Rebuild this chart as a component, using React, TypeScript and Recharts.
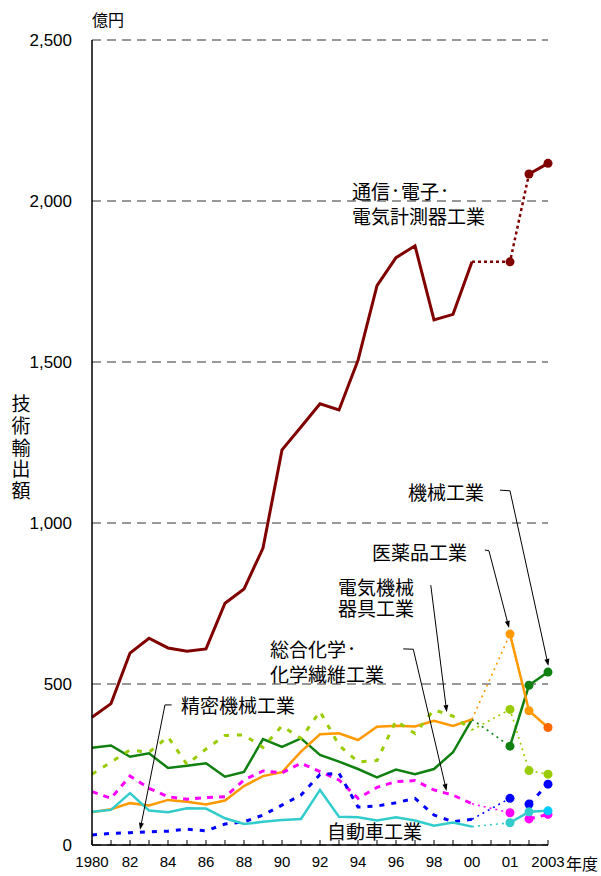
import React from 'react';
import { LineChart, Line, XAxis, YAxis, CartesianGrid, ReferenceLine } from 'recharts';

// fiscal years; the axis leaves one empty slot between 2000 and 2001
const years = [
  '1980', '1981', '1982', '1983', '1984', '1985', '1986', '1987', '1988', '1989', '1990',
  '1991', '1992', '1993', '1994', '1995', '1996', '1997', '1998', '1999', '2000',
  '2001', '2002', '2003',
];
const xSlots = [0, 1, 2, 3, 4, 5, 6, 7, 8, 9, 10, 11, 12, 13, 14, 15, 16, 17, 18, 19, 20, 22, 23, 24];
const tickSlots = [0, 1, 2, 3, 4, 5, 6, 7, 8, 9, 10, 11, 12, 13, 14, 15, 16, 17, 18, 19, 20, 21, 22, 23, 24];
const tickText = [
  '1980', '', '82', '', '84', '', '86', '', '88', '', '90', '', '92', '', '94', '', '96', '', '98', '', '00',
  '', '01', '', '2003',
];
const yTicks = [0, 500, 1000, 1500, 2000, 2500];

// 億円
const telecom = [397, 439, 596, 642, 612, 602, 609, 751, 795, 922, 1227, 1298, 1370, 1351, 1505, 1737, 1824, 1861, 1631, 1648, 1811, 1811, 2084, 2117];
const machinery = [302, 309, 274, 285, 239, 246, 254, 212, 227, 329, 305, 331, 280, 259, 236, 210, 234, 220, 236, 288, 390, 307, 496, 537];
const pharma = [102, 111, 130, 123, 140, 134, 126, 138, 183, 214, 226, 290, 344, 347, 326, 367, 370, 368, 386, 370, 390, 655, 417, 365];
const electrical = [220, 257, 295, 288, 336, 250, 298, 340, 342, 303, 370, 331, 415, 310, 258, 262, 386, 346, 420, 400, 357, 421, 231, 220];
const chemical = [166, 145, 214, 176, 150, 142, 147, 150, 202, 230, 224, 254, 228, 202, 145, 179, 197, 200, 171, 155, 128, 100, 81, 95];
const precision = [31, 36, 38, 41, 43, 49, 44, 65, 72, 93, 124, 155, 219, 223, 118, 121, 131, 145, 93, 72, 80, 145, 127, 189];
const auto = [103, 109, 161, 107, 102, 114, 113, 83, 65, 72, 78, 81, 171, 88, 86, 76, 86, 76, 60, 70, 57, 69, 103, 106];

type SeriesDef = {
  key: string;
  values: number[];
  color: string;
  lastDot?: string;
  width: number;
  dash?: string;
  bridge: number[]; // indexes joined by the thin dotted line
  post: number[]; // indexes joined after 2001
  postDash?: string;
};

const series: SeriesDef[] = [
  { key: 'telecom', values: telecom, color: '#800000', width: 3, bridge: [20, 21, 22], post: [22, 23] },
  { key: 'machinery', values: machinery, color: '#108010', width: 2.5, bridge: [20, 21], post: [21, 22, 23] },
  { key: 'pharma', values: pharma, color: '#ff9900', lastDot: '#ff6600', width: 2.5, bridge: [20, 21], post: [21, 22, 23] },
  { key: 'electrical', values: electrical, color: '#99cc00', width: 3, dash: '5 8', bridge: [20, 21, 22, 23], post: [] },
  { key: 'chemical', values: chemical, color: '#ff00ff', width: 3, dash: '6 6', bridge: [20, 21], post: [22, 23], postDash: '6 6' },
  { key: 'precision', values: precision, color: '#0000ff', width: 3, dash: '5 7', bridge: [20, 21], post: [22, 23], postDash: '5 7' },
  { key: 'auto', values: auto, color: '#33cccc', lastDot: '#00ccff', width: 2.5, bridge: [20, 21], post: [21, 22, 23] },
];

const rows = years.map((year, i) => {
  const row: Record<string, number | string | null> = { slot: xSlots[i], year };
  series.forEach((s) => {
    const v = s.values[i];
    row[s.key + '_main'] = i <= 20 ? v : null;
    row[s.key + '_bridge'] = s.bridge.includes(i) ? v : null;
    row[s.key + '_post'] = s.post.includes(i) ? v : null;
    row[s.key + '_dot'] = i >= 21 ? v : null;
  });
  return row;
});

const labelFont = '"Noto Sans CJK JP", "Noto Sans CJK SC", sans-serif';

const makeDot = (color: string, lastColor?: string) => (props: any) => {
  const { cx, cy, index } = props;
  if (cx == null || cy == null || isNaN(cy)) return <g key={`d-${index}`} />;
  const fill = lastColor && index === years.length - 1 ? lastColor : color;
  return <circle key={`d-${index}`} cx={cx} cy={cy} r={4.5} fill={fill} stroke="none" />;
};

const XTick = (props: any) => {
  const { x, y, payload } = props;
  return (
    <g>
      <line x1={x} x2={x} y1={y} y2={y - 5} stroke="#000" strokeWidth={1} />
      <text x={x} y={y + 22} textAnchor="middle" fontSize={15} fill="#000">
        {tickText[payload.value]}
      </text>
    </g>
  );
};

const ArrowShape = (props: any) => {
  const { x1, y1, x2, y2 } = props;
  const a = Math.atan2(y2 - y1, x2 - x1);
  const len = 7;
  const w = 2.5;
  const bx = x2 - len * Math.cos(a);
  const by = y2 - len * Math.sin(a);
  const pts = [
    `${x2},${y2}`,
    `${bx + w * Math.sin(a)},${by - w * Math.cos(a)}`,
    `${bx - w * Math.sin(a)},${by + w * Math.cos(a)}`,
  ].join(' ');
  return (
    <g>
      <line x1={x1} y1={y1} x2={bx} y2={by} stroke="#000" strokeWidth={1} />
      <polygon points={pts} fill="#000" />
    </g>
  );
};

// leader lines from the labels, in data coordinates [slot, value]
const hooks = [
  [[21.47, 1102], [22.0, 1100]],
  [[20.68, 916], [20.89, 914]],
  [[16.38, 609], [16.91, 608]],
  [[4.19, 435], [3.84, 435]],
];
const arrows = [
  [[22.0, 1100], [24.02, 556]],
  [[20.89, 914], [21.95, 674]],
  [[17.83, 807], [18.67, 413]],
  [[16.91, 608], [18.66, 168]],
  [[3.84, 435], [2.53, 47]],
];

// the middle dot is set narrow, like a proportional font
const renderLine = (l: string) =>
  l.split('・').map((part, i, arr) => (
    <React.Fragment key={i}>
      {part}
      {i < arr.length - 1 && (
        <span style={{ fontSize: 11, position: 'relative', top: -4, fontWeight: 700 }}>・</span>
      )}
    </React.Fragment>
  ));

const Label = ({ left, top, lines }: { left: number; top: number; lines: string[] }) => (
  <div
    style={{
      position: 'absolute',
      left,
      top,
      fontFamily: labelFont,
      fontSize: 19,
      lineHeight: '21px',
      color: '#000',
      whiteSpace: 'nowrap',
      pointerEvents: 'none',
    }}
  >
    {lines.map((l) => (
      <div key={l}>{renderLine(l)}</div>
    ))}
  </div>
);

export default function App() {
  return (
    <div
      style={{
        position: 'absolute',
        left: 0,
        top: 0,
        width: 601,
        height: 876,
        background: '#fff',
        fontFamily: '"Liberation Sans", Arial, sans-serif',
      }}
    >
      <LineChart width={601} height={876} data={rows} margin={{ top: 40, right: 53, bottom: 0, left: 0 }}>
        <CartesianGrid vertical={false} stroke="#333" strokeDasharray="9 6" />
        <XAxis
          type="number"
          dataKey="slot"
          domain={[0, 24]}
          ticks={tickSlots}
          interval={0}
          height={31}
          tickSize={0}
          tickMargin={0}
          tickLine={false}
          tick={<XTick />}
          axisLine={{ stroke: '#000', strokeWidth: 1.5 }}
        />
        <YAxis
          type="number"
          domain={[0, 2500]}
          ticks={yTicks}
          width={92}
          tickSize={0}
          tickMargin={20}
          tickLine={false}
          axisLine={{ stroke: '#000', strokeWidth: 1.5 }}
          tick={{ fontSize: 17, fill: '#000' }}
          tickFormatter={(v: number) => v.toLocaleString('en-US')}
        />

        {series.map((s) => (
          <Line
            key={s.key + '_bridge'}
            dataKey={s.key + '_bridge'}
            stroke={s.color}
            strokeWidth={s.key === 'telecom' ? 2.5 : 1.6}
            strokeDasharray={s.key === 'telecom' ? '3 3' : '2 4'}
            connectNulls
            dot={false}
            activeDot={false}
            isAnimationActive={false}
          />
        ))}
        {series.map((s) => (
          <Line
            key={s.key + '_main'}
            dataKey={s.key + '_main'}
            stroke={s.color}
            strokeWidth={s.width}
            strokeDasharray={s.dash}
            dot={false}
            activeDot={false}
            isAnimationActive={false}
          />
        ))}
        {series
          .filter((s) => s.post.length > 0)
          .map((s) => (
            <Line
              key={s.key + '_post'}
              dataKey={s.key + '_post'}
              stroke={s.color}
              strokeWidth={s.width}
              strokeDasharray={s.postDash}
              dot={false}
              activeDot={false}
              isAnimationActive={false}
            />
          ))}
        {series.map((s) => (
          <Line
            key={s.key + '_dot'}
            dataKey={s.key + '_dot'}
            stroke="none"
            dot={makeDot(s.color, s.lastDot)}
            activeDot={false}
            isAnimationActive={false}
          />
        ))}

        {hooks.map((h, i) => (
          <ReferenceLine
            key={'h' + i}
            segment={[{ x: h[0][0], y: h[0][1] }, { x: h[1][0], y: h[1][1] }]}
            stroke="#000"
            strokeWidth={1}
            ifOverflow="visible"
          />
        ))}
        {arrows.map((a, i) => (
          <ReferenceLine
            key={'a' + i}
            segment={[{ x: a[0][0], y: a[0][1] }, { x: a[1][0], y: a[1][1] }]}
            stroke="#000"
            ifOverflow="visible"
            shape={ArrowShape}
          />
        ))}
      </LineChart>

      <div style={{ position: 'absolute', left: 92, top: 7, fontFamily: labelFont, fontSize: 16, color: '#000' }}>億円</div>
      <div
        style={{
          position: 'absolute',
          left: 11,
          top: 392,
          width: 20,
          fontFamily: labelFont,
          fontSize: 19,
          lineHeight: '21.8px',
          color: '#000',
          textAlign: 'center',
        }}
      >
        {'技術輸出額'.split('').map((c) => (
          <div key={c}>{c}</div>
        ))}
      </div>
      <div style={{ position: 'absolute', left: 566, top: 851, fontFamily: labelFont, fontSize: 16, color: '#000' }}>年度</div>

      <Label left={352} top={180} lines={['通信・電子・', '電気計測器工業']} />
      <Label left={408} top={481} lines={['機械工業']} />
      <Label left={372} top={541} lines={['医薬品工業']} />
      <Label left={338} top={576} lines={['電気機械', '器具工業']} />
      <Label left={270} top={638} lines={['総合化学・', '化学繊維工業']} />
      <Label left={181} top={694} lines={['精密機械工業']} />
      <Label left={327} top={820} lines={['自動車工業']} />
    </div>
  );
}
